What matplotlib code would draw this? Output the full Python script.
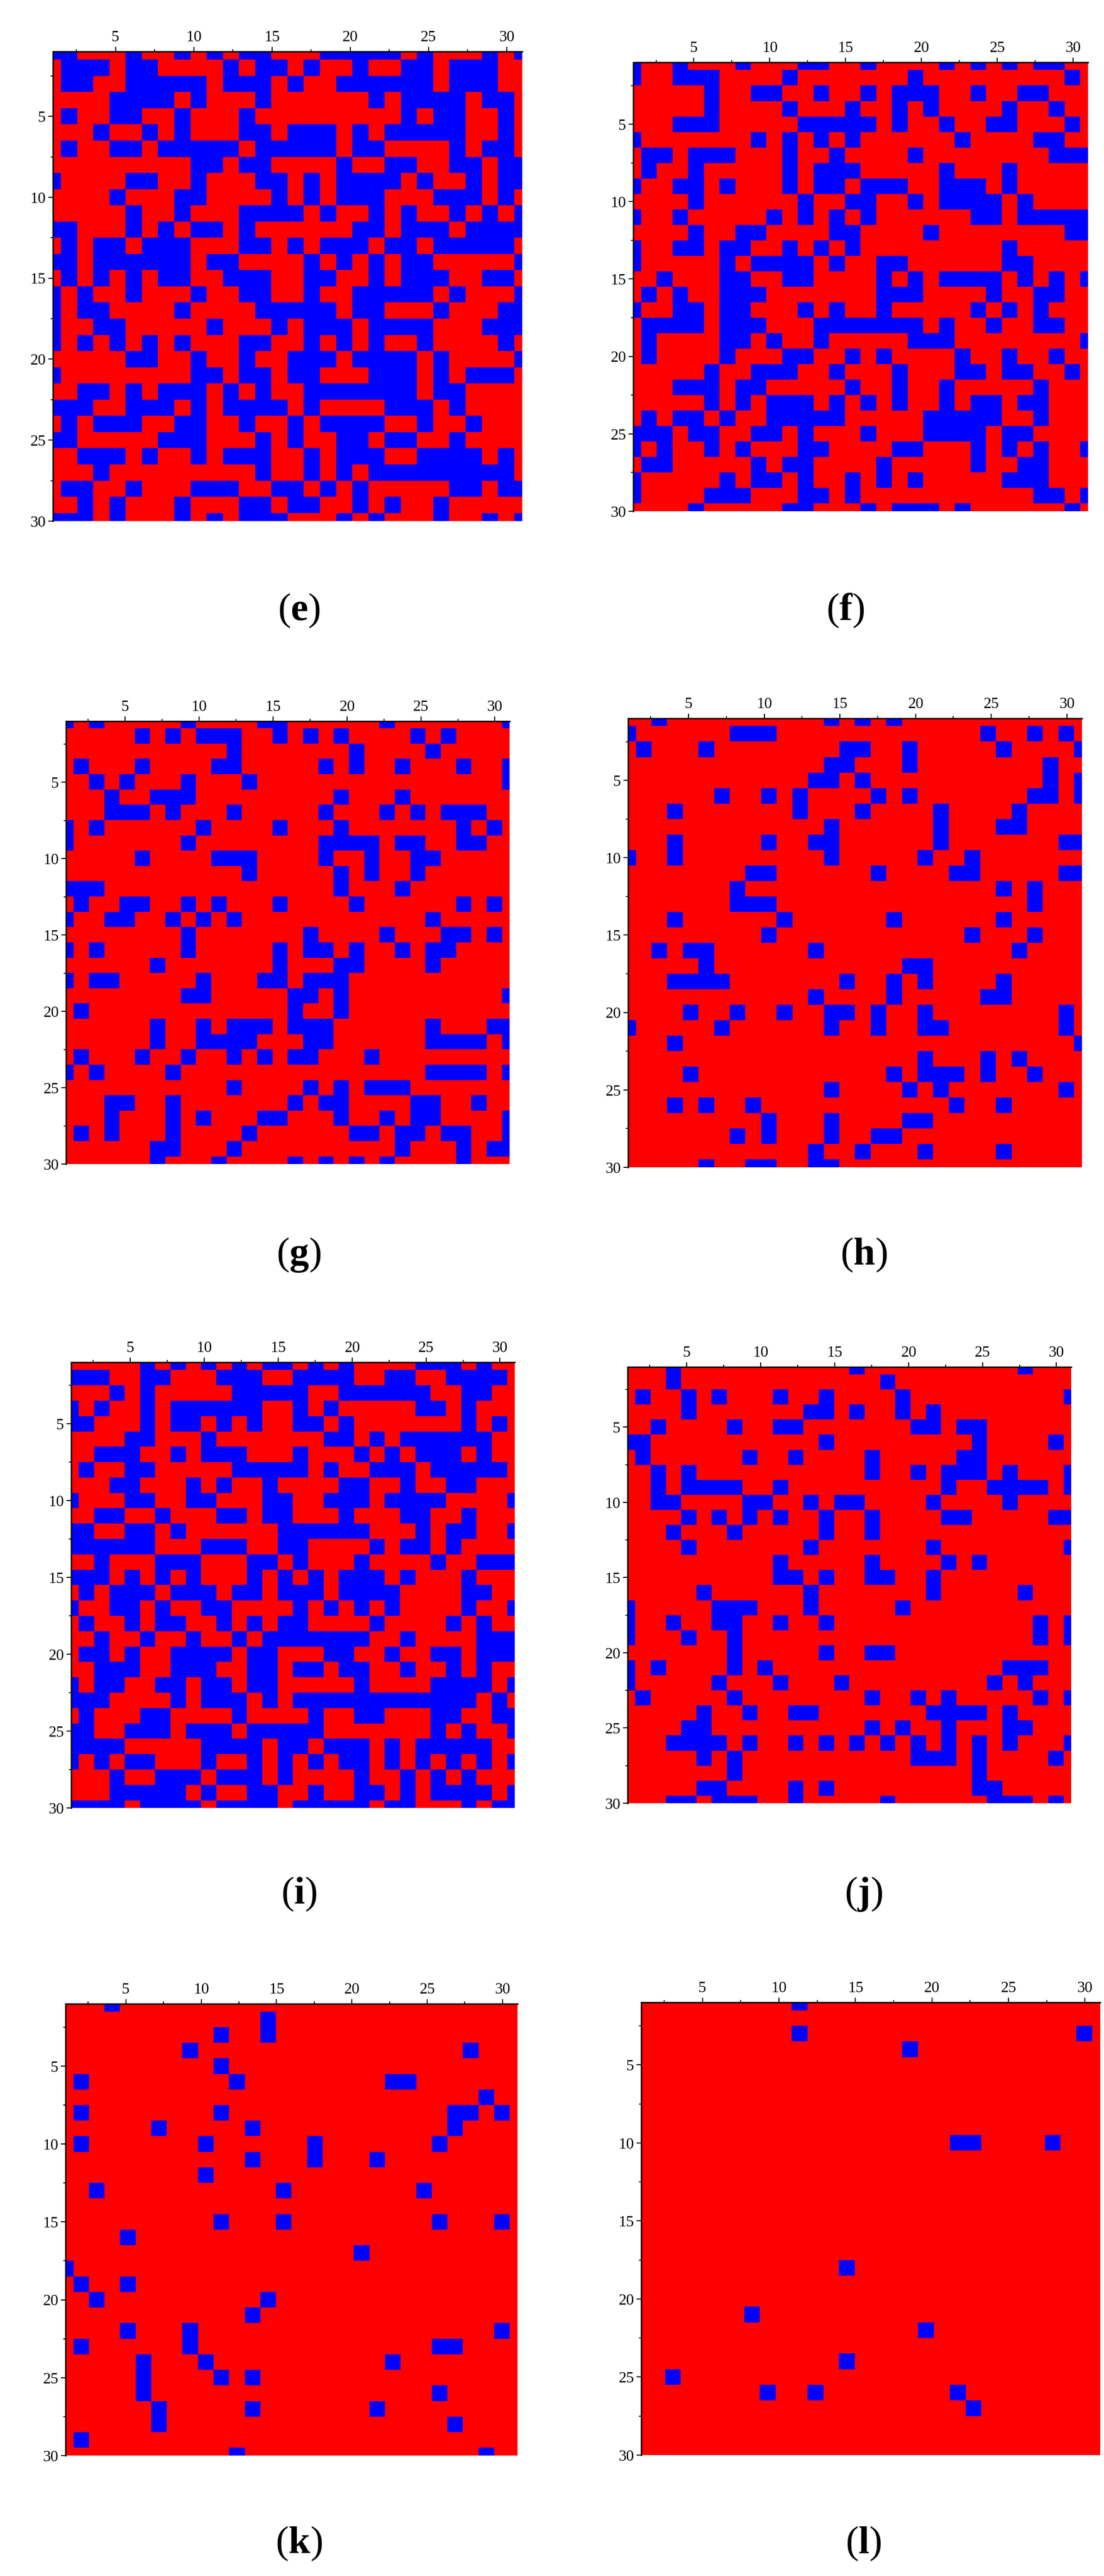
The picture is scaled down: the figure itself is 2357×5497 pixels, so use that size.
import numpy as np
import matplotlib
matplotlib.use("Agg")
import matplotlib.pyplot as plt
from matplotlib.colors import ListedColormap

plt.rcParams['font.family'] = ['Liberation Serif', 'DejaVu Serif']
plt.rcParams['mathtext.fontset'] = 'custom'
plt.rcParams['mathtext.rm'] = 'Liberation Serif'
plt.rcParams['mathtext.bf'] = 'Liberation Serif:bold'

# Each row lists the columns (1-30) of the blue cells
e_rows = ["1-2,6,9,11,13-14,18-22,24,28,30","2-4,6-7,12,14-15,17,20,23-24,26-28","2-3,6-10,12-14,16,19-24,26-28",
"5-8,10,14,21,23-26,28-29","2,5-6,9,13,23,25-26,29","4,7,9,13-14,16-18,20,22-26,29","2,5-6,8-12,14-18,20-21,26,28-29",
"10-11,13-14,19,22-23,26-27,29-30","1,6-7,10,14-15,17,19-22,24,27,29-30","5,9-10,15,17,19-21,25-27,29",
"6,9,13-16,18,21,23,26,28,30","1-2,6,8,10-11,13,20-21,23-25,27-30","2,4-5,7-9,13-14,16,18-20,22-23,25-29",
"1-2,4-9,11-12,17,19,21,23-24,30","2,4,6,8-9,12-14,17-18,21,23-25,28-29","1,3,6,10,13-14,17,20-24,26,30",
"1,3-4,9,14-18,20-21,25,29-30","1,4-5,11,15,17-19,21-24,28-30","1,3,5,7,9,13-14,17,19,21,24,29",
"6-7,10,13,16-18,20-23,25,30","1,10-11,13-14,16-17,21-23,25,27-29","3-4,6,8-10,12,14,17-23,25-26",
"1-3,6-8,10,12-15,17,22-24,26","2,4-6,9-10,13,16,18-21,24,27","1-2,8-10,14,16,19-20,22-23,26",
"3-5,7,10,12-14,17,19-21,24-27,29","4,14,17,19,21-29","2-3,6,10-12,15-16,18,20,26-27,29-30",
"3,5,9,13-14,16-17,20,22,25","1-3,5,9,11,13-15,19,21,25,28,30"]

f_rows = ["1,4,8,12-13,16,21,23,25,27-28","1,4-6,11,19,29","6,9-10,13,16,18-20,23,26-27","6,11,15,18,20,25,28",
"4-6,12-16,18,21,24-25,29","1,9,11,13,15,22,27-28","2-3,5-7,11,14,19,28-30","2,5,11,13-15,21,25",
"1,4-5,7,11,13-14,16-18,21-23,25","5,12,15-16,19,21-24,26","1,4,10,12,14,16,23-24,26-30","5,8-9,14-15,20,29-30",
"1,4-5,7-8,11,13,15,25","1,7,9-12,14,17-18,25-26","3,7-8,11-12,17,19,21-24,26,28,30","2,4,7-9,17-19,24,27-28",
"1,4-5,7-8,12,14,17,23,25,27","2-5,7-9,13-19,21,24,27-28","2,7-8,10,13,19-21,30","2,7,11-12,15,17,22,25,28",
"6,9-11,14,18,22-23,25-26,29","4-6,8-9,15,18,21,27","6,8,10-12,14,16,18,21,23-24,26-27","2,4-5,7,10-14,20-24,27",
"1-3,5-6,9-10,12,16,20-23,25-26","1,3,6,8,12-13,18-19,23,25,27,30","2-3,9,11-12,17,23,26-27","1,7,9-10,12,15,17,19,25-27",
"1,6-8,12-13,15,27-28,30","5,11-12,16,18-20,22,29"]

g_rows = ["1,3,9,14-15,22,30","6,8,10-12,15,17,19,24,26","12,20,25","2,6,11-12,18,20,23,27,30","3,5,9,13,30","4,7-9,19,23",
"4-6,8,12,18,22,24,26-28","1,3,10,15,19,27,29","1,9,18-21,23-24,27-28","6,11-13,18,21,24-25","13,19,21,24","1-3,19,23",
"2,5-6,9,11,15,20,27,29","1,4-5,8,10,12,25","9,17,22,26-27,29","1,3,9,15,17-18,20,23,25-26","7,15,19-20,25",
"1,3-4,10,14-15,17-19","9-10,16-17,19,30","2,16,19","7,10,12-14,16-18,25,29-30","7,10-13,17-18,25-28,30",
"2,6,9,12,14,16-17,21","1,3,8,25-28,30","12,17,19,21-23","4-5,8,16,18-19,24-25,28","4,8,10,14-15,19,22,24-25,30",
"2,4,8,13,20-21,23-24,26-27,30","7-8,12,23,27,29-30","7,11,16,18,20,22,27"]

h_rows = ["3,14,16,18","1,8-10,24,27,29","2,6,15-16,19,25,30","14-15,19,28","13-14,16,28,30","7,10,12,17,19,27-28,30",
"4,12,16,21,26","14,21,25-26","4,10,13-14,21,29-30","1,4,14,20,23","9-10,17,22-23,29-30","8,25,27","8-10,27",
"4,11,18,25","10,23,27","3,5-6,13,26","6,19-20","4-7,15,18,20,25","13,18,24-25","5,8,11,14-15,17,20,29",
"1,7,14,17,20-21,29","4,30","20,24,26","5,18,20-22,24,27","14,19,21,29","4,6,9,22,25","10,14,19-20","8,10,14,17-18",
"13,16,20,25","6,9-10,13-14"]

i_rows = ["6,8,10,12,14-15,17,19,24-26,28","1-3,6-7,11-13,16-19,22-23,26-29","4,6,12-16,19-24,27-28",
"1,3,6,8-13,16,18,24-25,27","1-2,6,8-9,11,13,16-17,19,27,29","5-6,10,18-19,21,23-28","3-5,8,10-12,16,20,22,24-26,28",
"2,5-6,12-16,18,21-23,25-29","4-5,9,11,14,19-20,23,26-27","1,5-6,9-10,14-15,18-20,22-25,30","3-4,7,11-12,14-15,19,23-24,27",
"1-2,5-6,8,15-20,24,26-27,30","1-6,10-12,15-16,21,23-24,26","3,7-9,13-14,16,20,25,28-30","1-3,5,7,9,13,15,17,19-21,23,27",
"2,4-6,8-10,12-13,15-17,19-22,27-28","1,4-5,7,10-11,16,18,20,22,27,30","2,5,7-8,11,13,15-16,21,26,28",
"3,6,9,12,14-20,23,28-30","2-3,5,8-11,13-14,18-19,22,25-26,28-30","3-5,8-10,13-14,16-17,19-20,23,26,28",
"1,3-4,7-8,10-11,13-14,20,25-28,30","1-3,8,10-12,14,16-27,29","2,6-7,12,17,20-21,25-26,29-30",
"1-2,5-7,9-11,13-17,25,27,30","1-4,10-13,15-16,18-20,22,24-28","1,3,5-6,10,13,15,17,19-20,22,24,26,28,30",
"4,7-9,11-13,15,20,23,25,27","4-8,10,13-14,17,20-21,23,25-28,30","1-4,6-9,11-14,16-20,22-23,27,29-30"]

j_rows = ["4,16,27","4,18","2,5,7,11,14,19,30","5,13-14,16,19,21","3,8,11-12,20-21,23-24","1-2,14,24,29","2,9,12,17,23-24",
"3,5,17,20,22-24,26,30","3,5-8,11,22,25-28,30","3-4,9-10,13,15-16,21,26","5,7,9,11,14,17,22-23,29-30","4,8,14,17",
"5,13,21,30","11,17,22,24","11-12,14,17-18,21","6,13,21,27","1,7-9,13,19","1,4,7-8,11,14,28,30","1,5,8,28,30",
"8,14,17-18","1,3,8,10,26-28","1,7,11,15,25,27","2,8,17,20,22,28,30","6,9,12-13,21-24,26","5-6,17,19,22,26-27",
"4-7,9,12,14,16,18,20,22,24,26,30","6,8,20-22,24,29","8,24","6-7,12,14,24-25","4-5,7-9,12,18,25-27,29"]

k_rows = ["4","14","11,14","9,27","11","2,12,22-23","28","2,11,26-27,29","7,13,26","2,10,17,25","13,17,21","10","3,15,24","",
"11,15,25,29","5","20","1","2,5","3,14","13","5,9,29","2,9,25-26","6,10,22","6,11,13","6,25","7,13,21","7,26","2","12,28"]

l_rows = ["11","","11,29","18","","","","","","21-22,27","","","","","","","","14","","","8","19","","14","3","9,12,21","22","","",""]

captions = ["e", "f", "g", "h", "i", "j", "k", "l"]
panels = [e_rows, f_rows, g_rows, h_rows, i_rows, j_rows, k_rows, l_rows]
major_ticks = [5, 10, 15, 20, 25, 30]
minor_ticks = [2.5, 7.5, 12.5, 17.5, 22.5, 27.5]

W, H = 2357, 5497
# pixel boxes (left, right, top, bottom) and caption anchors (centre x, baseline y)
boxes = [(113, 1115, 110, 1112), (1352, 2323, 133, 1091),
         (141, 1088, 1539, 2484), (1341, 2310, 1533, 2491),
         (152, 1099, 2907, 3858), (1340, 2287, 2917, 3848),
         (140, 1105, 4276, 5240), (1369, 2349, 4273, 5239)]
cap_pos = [(638, 1323), (1805, 1323), (638, 2698), (1844, 2698),
           (639, 4062), (1844, 4062), (638, 5448), (1844, 5448)]


def to_matrix(rows):
    m = np.zeros((30, 30))
    for r, s in enumerate(rows):
        for part in filter(None, s.split(",")):
            a, _, b = part.partition("-")
            m[r, int(a) - 1:int(b or a)] = 1
    return m


fig = plt.figure(figsize=(W / 100, H / 100), dpi=100, facecolor="white")
cmap = ListedColormap(["#FF0000", "#0000FF"])
half = 15 / 29

for rows, (l, r, t, b), cap, (cx, cy) in zip(panels, boxes, captions, cap_pos):
    ax = fig.add_axes([l / W, 1 - b / H, (r - l) / W, (b - t) / H])
    ax.imshow(to_matrix(rows), cmap=cmap, vmin=0, vmax=1, interpolation="nearest", aspect="auto",
              extent=(1 - half, 31 + half, 30.5, 0.5))
    ax.set_xlim(1, 31)
    ax.set_ylim(30, 1)
    ax.xaxis.tick_top()
    ax.set_xticks(major_ticks)
    ax.set_yticks(major_ticks)
    ax.set_xticks(minor_ticks, minor=True)
    ax.set_yticks(minor_ticks, minor=True)
    ax.tick_params(which="major", length=7, width=1.6, labelsize=24, pad=4, colors="black")
    ax.tick_params(which="minor", length=3.5, width=1.4)
    for side in ("right", "bottom"):
        ax.spines[side].set_visible(False)
    for side in ("top", "left"):
        ax.spines[side].set_linewidth(2.2)
    fig.text(cx / W, 1 - cy / H, "($\\mathbf{%s}$)" % cap, fontsize=60, ha="center", va="baseline")

fig.savefig("out.png", dpi=100)
